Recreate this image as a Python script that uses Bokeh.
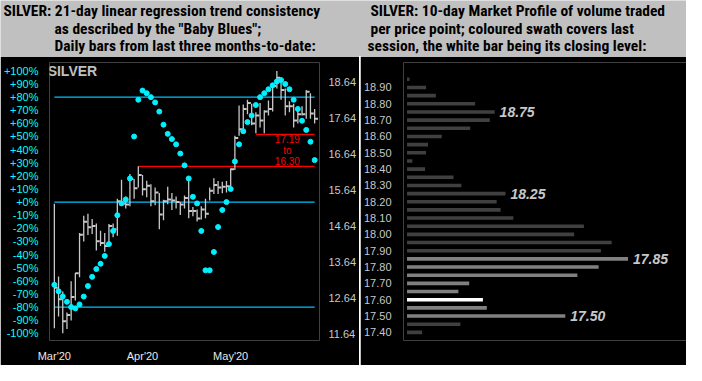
import numpy as np
from bokeh.plotting import figure
from bokeh.models import (Range1d, LinearAxis, FixedTicker, PrintfTickFormatter,
                          Label, ColumnDataSource, Spacer)
from bokeh.layouts import column, row
from bokeh.core.properties import value
from bokeh.embed import file_html
from bokeh.resources import INLINE

# ---------------- data: left panel (daily bars + Baby Blues) ----------------
highs = [15.26, 13.24, 12.82, 12.24, 13.11, 13.34, 14.45, 14.93, 14.98, 14.84,
         14.71, 14.51, 14.45, 14.70, 14.71, 15.40, 15.93, 15.46, 16.09, 15.95,
         16.30, 16.06, 15.90, 15.80, 15.71, 15.56, 15.37, 15.73, 15.56, 15.46,
         15.31, 15.49, 15.93, 15.17, 15.10, 15.19, 15.40, 15.71, 15.97, 15.89,
         15.87, 15.89, 16.24, 17.15, 17.99, 18.02, 18.15, 18.04, 17.80, 18.06,
         17.86, 18.13, 18.60, 18.95, 18.73, 18.46, 18.11, 18.04, 17.95, 17.97,
         18.42, 18.33, 17.89]
lows = [11.80, 12.13, 11.66, 11.78, 12.02, 12.57, 13.22, 14.21, 14.39, 14.42,
        13.96, 14.09, 13.93, 14.09, 14.33, 14.37, 15.22, 15.13, 15.19, 15.40,
        15.71, 15.49, 15.44, 15.19, 15.22, 14.55, 14.80, 15.25, 15.09, 15.13,
        14.95, 15.13, 14.86, 14.91, 14.77, 14.82, 14.86, 15.35, 15.53, 15.53,
        15.55, 15.57, 15.64, 16.20, 17.15, 17.22, 17.75, 17.44, 17.22, 17.38,
        17.22, 17.71, 17.82, 18.46, 18.15, 17.71, 17.80, 17.38, 17.49, 17.71,
        17.62, 17.62, 17.49]
closes = [12.93, 12.61, 12.00, 12.17, 12.67, 13.33, 14.40, 14.76, 14.61, 14.64,
          14.22, 14.17, 14.09, 14.64, 14.55, 15.33, 15.26, 15.24, 15.95, 15.69,
          16.06, 15.66, 15.76, 15.33, 15.57, 14.96, 15.33, 15.38, 15.35, 15.31,
          15.24, 15.42, 15.06, 15.06, 14.85, 15.10, 14.98, 15.62, 15.78, 15.71,
          15.73, 15.75, 16.22, 17.09, 17.33, 17.89, 18.06, 17.49, 17.71, 17.57,
          17.82, 17.89, 18.53, 18.76, 18.42, 17.97, 17.97, 17.57, 17.75, 17.75,
          18.37, 17.77, 17.62]
baby_blues = [-63, -68, -72, -76, -80, -81, -78, -72, -64, -57,
              -51, -47, -41, -32, -22, -10, -1, 2, 18, 50,
              78, 85, 83, 80, 76, 69, 59, 52, 48, 44,
              37, 28, 18, 4, -1, -22, -52, -52, -38, -19,
              -6, 0, 10, 31, 44, 54, 61, 66, 74, 80,
              83, 86, 89, 92, 93, 90, 86, 78, 71, 62,
              55, 46, 32]

month_tick_idx = [0, 21, 42]
month_tick_labels = ["Mar'20", "Apr'20", "May'20"]
pct_ticks = [100, 90, 80, 70, 60, 50, 40, 30, 20, 10, 0,
             -10, -20, -30, -40, -50, -60, -70, -80, -90, -100]
pct_labels = ["+100%", "+90%", "+80%", "+70%", "+60%", "+50%", "+40%", "+30%",
              "+20%", "+10%", "+0%", "-10%", "-20%", "-30%", "-40%", "-50%",
              "-60%", "-70%", "-80%", "-90%", "-100%"]
price_ticks = [18.64, 17.64, 16.64, 15.64, 14.64, 13.64, 12.64, 11.64]
trend_levels = [80, 0, -80]
support_levels = [17.19, 16.30]
support_start_idx = [48, 20]
support_text = ["17.19", "to", "16.30"]

# ---------------- data: right panel (10-day market profile) ----------------
profile_prices = [18.95, 18.90, 18.85, 18.80, 18.75, 18.70, 18.65, 18.60,
                  18.55, 18.50, 18.45, 18.40, 18.35, 18.30, 18.25, 18.20,
                  18.15, 18.10, 18.05, 18.00, 17.95, 17.90, 17.85, 17.80,
                  17.75, 17.70, 17.65, 17.60, 17.55, 17.50, 17.45, 17.40]
profile_volume = [2.5, 19.4, 29.4, 69.4, 89.4, 84.4, 64.4, 35.4,
                  21.4, 19.4, 5.4, 18.4, 47.4, 55.4, 100.4, 91.4,
                  95.4, 108.4, 180.4, 170.4, 208.7, 197.7, 225.4, 195.4,
                  173.7, 63.4, 52.4, 77.4, 81.4, 161.4, 54.4, 15.4]
session_low, session_high, session_close = 17.50, 17.85, 17.60
profile_peaks = [18.75, 18.25, 17.85, 17.50]
profile_ticks = [18.90, 18.80, 18.70, 18.60, 18.50, 18.40, 18.30, 18.20,
                 18.10, 18.00, 17.90, 17.80, 17.70, 17.60, 17.50, 17.40]

header_left = ["SILVER:  21-day linear regression trend consistency",
               "as described by the \"Baby Blues\";",
               "Daily bars from last three months-to-date:"]
header_right = ["SILVER:  10-day Market Profile of volume traded",
                "per price point; coloured swath covers last",
                "session, the white bar being its closing level:"]

# ---------------- style ----------------
GREY_BG = "#c0c0c0"
HEAD_FONT = "'Liberation Sans Narrow', 'Arial Narrow', 'Roboto Condensed', sans-serif"
AX_FONT = "'Liberation Sans', Arial, sans-serif"
W_TOTAL, H_HEAD, H_PANEL = 686, 56, 309
W_LEFT, W_RIGHT = 359, 326

# ---------------- header ----------------
hdr = figure(width=W_TOTAL, height=H_HEAD, x_range=Range1d(0, W_TOTAL),
             y_range=Range1d(H_HEAD, 0), output_backend="svg",
             toolbar_location=None, min_border=0, background_fill_color=GREY_BG,
             border_fill_color=GREY_BG, outline_line_color=None)
hdr.axis.visible = False
hdr.grid.visible = False
line_y = [10.5, 28, 45]
left_x = [3, 54, 54]
right_x = [370, 370, 367]
for txt, xx, yy in zip(header_left, left_x, line_y):
    hdr.add_layout(Label(x=xx, y=yy, text=txt, text_font=HEAD_FONT,
                         text_font_size="15.5px", text_font_style="bold",
                         text_color="black", text_baseline="middle"))
for txt, xx, yy in zip(header_right, right_x, line_y):
    hdr.add_layout(Label(x=xx, y=yy, text=txt, text_font=HEAD_FONT,
                         text_font_size="15.5px", text_font_style="bold",
                         text_color="black", text_baseline="middle"))

# ---------------- left panel ----------------
n = len(closes)
idx = np.arange(n)
src = ColumnDataSource(dict(i=idx, i_tick=idx + 0.8, high=highs, low=lows,
                            close=closes, bb=baby_blues))

pl = figure(width=W_LEFT, height=H_PANEL, x_range=Range1d(-1.157, 63.157),
            y_range=Range1d(11.462, 19.184), y_axis_location="right",
            output_backend="svg", toolbar_location=None,
            min_border_left=46, min_border_right=35, min_border_top=6,
            min_border_bottom=25, background_fill_color="black",
            border_fill_color="black", outline_line_color=None)
pl.extra_y_ranges = {"pct": Range1d(-105.5, 106.4)}
pl.grid.visible = False

pct_axis = LinearAxis(y_range_name="pct", ticker=FixedTicker(ticks=pct_ticks),
                      major_label_overrides=dict(zip(pct_ticks, pct_labels)))
pl.add_layout(pct_axis, "left")

for ax in pl.axis:
    ax.axis_line_color = None
    ax.major_tick_line_color = None
    ax.minor_tick_line_color = None
    ax.major_label_text_font = AX_FONT
    ax.major_label_text_font_size = "11px"

pct_axis.major_label_text_color = "#00ffff"
pct_axis.major_label_standoff = 5

pax = pl.yaxis[0] if pl.yaxis[0] is not pct_axis else pl.yaxis[1]
pax.ticker = FixedTicker(ticks=price_ticks)
pax.formatter = PrintfTickFormatter(format="%.2f")
pax.major_label_text_color = "#c8c8c8"
pax.major_label_standoff = 3

pl.xaxis.ticker = FixedTicker(ticks=month_tick_idx)
pl.xaxis.major_label_overrides = dict(zip(month_tick_idx, month_tick_labels))
pl.xaxis.major_label_text_color = "#e8e8e8"
pl.xaxis.major_label_standoff = 3

# trend-consistency reference lines
pl.segment(x0=[0] * len(trend_levels), x1=[n - 1] * len(trend_levels),
           y0=trend_levels, y1=trend_levels, y_range_name="pct",
           line_color="#00bfff", line_width=1.3)
# support lines
pl.segment(x0=support_start_idx, x1=[n - 1] * len(support_levels),
           y0=support_levels, y1=support_levels, line_color="#ff0000", line_width=1.2)
# bars
pl.segment(x0="i", y0="low", x1="i", y1="high", source=src,
           line_color="#c8c8c8", line_width=1.3)
pl.segment(x0="i", y0="close", x1="i_tick", y1="close", source=src,
           line_color="#c8c8c8", line_width=2)
# baby blues
pl.scatter(x="i", y="bb", source=src, y_range_name="pct", size=5,
           marker="circle", fill_color="#00f0ff", line_color="#00f0ff")
# support range text
mid_x = (support_start_idx[0] + n - 1) / 2 + 0.5
span = support_levels[0] - support_levels[1]
text_y = [support_levels[0] - 0.15 * span, support_levels[1] + 0.5 * span,
          support_levels[1] + 0.18 * span]
pl.text(x=[mid_x] * 3, y=text_y, text=support_text, text_color="#ff0000",
        text_font=value(AX_FONT), text_font_size="10px", text_align="center",
        text_baseline="middle")
pl.add_layout(Label(x=-1.6, y=100, y_range_name="pct", text="SILVER",
                    text_font=AX_FONT, text_font_size="14px",
                    text_font_style="bold", text_color="#c0c0c0",
                    text_baseline="middle"))

# ---------------- right panel ----------------
def bar_color(pv):
    if abs(pv - session_close) < 1e-9:
        return "#ffffff"
    if session_low - 1e-9 <= pv <= session_high + 1e-9:
        return "#808080"
    return "#404040"

prof_src = ColumnDataSource(dict(price=profile_prices, vol=profile_volume,
                                 color=[bar_color(v) for v in profile_prices]))
pr = figure(width=W_RIGHT, height=H_PANEL, x_range=Range1d(-3.6, 285),
            y_range=Range1d(17.35, 19.053), x_axis_location=None,
            output_backend="svg", toolbar_location=None, min_border_left=43,
            min_border_right=0, min_border_top=0, min_border_bottom=0,
            background_fill_color="black", border_fill_color="black",
            outline_line_color=None)
pr.grid.visible = False
pr.yaxis.ticker = FixedTicker(ticks=profile_ticks)
pr.yaxis.formatter = PrintfTickFormatter(format="%.2f")
pr.yaxis.axis_line_color = None
pr.yaxis.major_tick_line_color = None
pr.yaxis.minor_tick_line_color = None
pr.yaxis.major_label_text_color = "#c8c8c8"
pr.yaxis.major_label_text_font = AX_FONT
pr.yaxis.major_label_text_font_size = "11px"
pr.yaxis.major_label_standoff = 6

pr.hbar(y="price", left=0, right="vol", height=0.022, fill_color="color",
        line_color=None, source=prof_src)
peak_vol = [profile_volume[profile_prices.index(pk)] for pk in profile_peaks]
pr.text(x=[v + 5 for v in peak_vol], y=profile_peaks,
        text=["%.2f" % pk for pk in profile_peaks], text_color="#c8c8c8",
        text_font=value(AX_FONT), text_font_size="14px",
        text_font_style="bold italic", text_baseline="middle")
pr.add_layout(Label(x=-45.5, y=19.0, text="SILVER", text_font=AX_FONT,
                    text_font_size="11px", text_color="#c0c0c0",
                    text_baseline="middle"))

sep = Spacer(width=1, height=H_PANEL, styles={"background-color": "#ffffff"})
layout = column(hdr, row(pl, sep, pr, spacing=0), spacing=0)

open("out.html", "w").write(file_html(layout, INLINE))
